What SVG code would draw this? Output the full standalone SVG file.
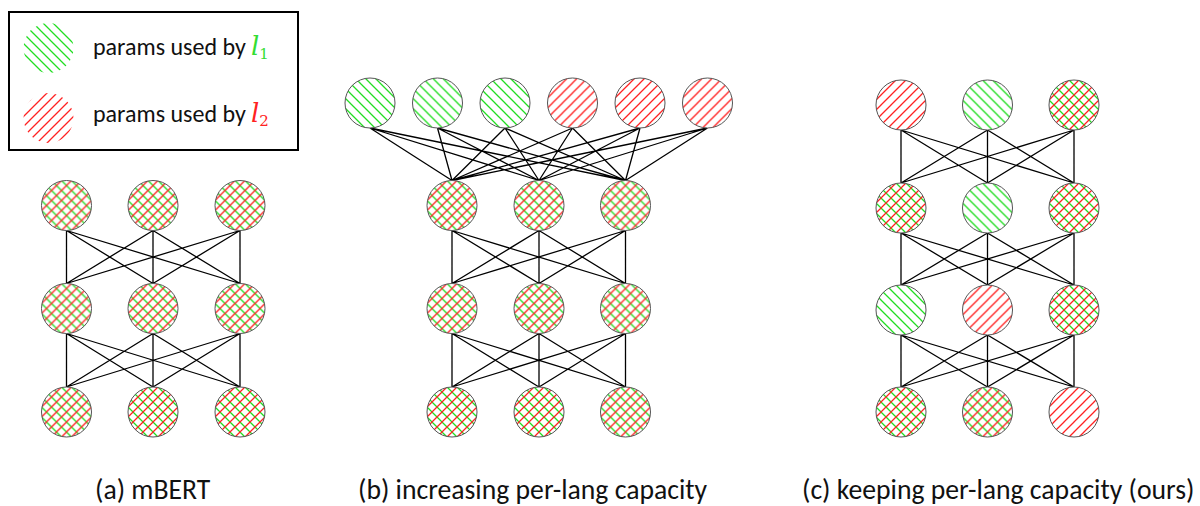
<svg xmlns="http://www.w3.org/2000/svg" width="1200" height="506" viewBox="0 0 1200 506">
<style>
.n{stroke:#555;stroke-width:1}
.g{fill:url(#pg)}
.r{fill:url(#pr)}
.conn{fill:none;stroke:#000;stroke-width:1.3}
.t{font-family:Carlito,"Open Sans","Noto Sans",sans-serif;fill:#111}
.m{font-family:"DejaVu Serif","Liberation Serif",serif;font-style:italic}
.s{font-family:"DejaVu Serif","Liberation Serif",serif}
</style>
<defs>
<pattern id="pg" patternUnits="userSpaceOnUse" width="10" height="10">
<path d="M-1,-1L11,11M-6,4L6,16M4,-6L16,6" stroke="#22dd22" stroke-width="1.3"/>
</pattern>
<pattern id="pr" patternUnits="userSpaceOnUse" width="10" height="10">
<path d="M-1,11L11,-1M-6,6L6,-6M4,16L16,4" stroke="#ff2222" stroke-width="1.3"/>
</pattern>
<g id="nx"><circle r="25" fill="#fff"/><circle r="25" class="g"/><circle r="25" class="r"/><circle r="25" fill="none" class="n"/></g>
<g id="ng"><circle r="25" fill="#fff"/><circle r="25" class="g"/><circle r="25" fill="none" class="n"/></g>
<g id="nr"><circle r="25" fill="#fff"/><circle r="25" class="r"/><circle r="25" fill="none" class="n"/></g>
</defs>
<rect width="1200" height="506" fill="#fff"/>

<g id="legend">
<rect x="9" y="12" width="289" height="138" fill="#fff" stroke="#000" stroke-width="2"/>
<circle cx="48.5" cy="48" r="25" class="g"/>
<circle cx="48.5" cy="118" r="25" class="r"/>
<text class="t" x="93" y="55" font-size="24">params used by</text>
<text x="251" y="55" font-size="26" fill="#33dd33"><tspan class="m">l</tspan><tspan class="s" font-size="15" dy="4">1</tspan></text>
<text class="t" x="93" y="122" font-size="24">params used by</text>
<text x="251" y="122" font-size="26" fill="#ff2222"><tspan class="m">l</tspan><tspan class="s" font-size="15" dy="4">2</tspan></text>
</g>

<g id="connectors" class="conn">
<path d="M66.5 230.5L66.5 283.5M66.5 230.5L153 283.5M66.5 230.5L240 283.5M153 230.5L66.5 283.5M153 230.5L153 283.5M153 230.5L240 283.5M240 230.5L66.5 283.5M240 230.5L153 283.5M240 230.5L240 283.5"/>
<path d="M66.5 333.5L66.5 387M66.5 333.5L153 387M66.5 333.5L240 387M153 333.5L66.5 387M153 333.5L153 387M153 333.5L240 387M240 333.5L66.5 387M240 333.5L153 387M240 333.5L240 387"/>
<path d="M370 128L452 180.5M370 128L539 180.5M370 128L625.5 180.5M437.5 128L452 180.5M437.5 128L539 180.5M437.5 128L625.5 180.5M505 128L452 180.5M505 128L539 180.5M505 128L625.5 180.5M572.5 128L452 180.5M572.5 128L539 180.5M572.5 128L625.5 180.5M640 128L452 180.5M640 128L539 180.5M640 128L625.5 180.5M707.5 128L452 180.5M707.5 128L539 180.5M707.5 128L625.5 180.5"/>
<path d="M452 230.5L452 283.5M452 230.5L539 283.5M452 230.5L625.5 283.5M539 230.5L452 283.5M539 230.5L539 283.5M539 230.5L625.5 283.5M625.5 230.5L452 283.5M625.5 230.5L539 283.5M625.5 230.5L625.5 283.5"/>
<path d="M452 333.5L452 387M452 333.5L539 387M452 333.5L625.5 387M539 333.5L452 387M539 333.5L539 387M539 333.5L625.5 387M625.5 333.5L452 387M625.5 333.5L539 387M625.5 333.5L625.5 387"/>
<path d="M901 130L901 183M901 130L987.5 183M901 130L1074 183M987.5 130L901 183M987.5 130L987.5 183M987.5 130L1074 183M1074 130L901 183M1074 130L987.5 183M1074 130L1074 183"/>
<path d="M901 233L901 285M901 233L987.5 285M901 233L1074 285M987.5 233L901 285M987.5 233L987.5 285M987.5 233L1074 285M1074 233L901 285M1074 233L987.5 285M1074 233L1074 285"/>
<path d="M901 335L901 387M901 335L987.5 387M901 335L1074 387M987.5 335L901 387M987.5 335L987.5 387M987.5 335L1074 387M1074 335L901 387M1074 335L987.5 387M1074 335L1074 387"/>
</g>

<g id="a-nodes">
<use id="a11" href="#nx" x="66.5" y="205.5"/><use id="a12" href="#nx" x="153" y="205.5"/><use id="a13" href="#nx" x="240" y="205.5"/>
<use id="a21" href="#nx" x="66.5" y="308.5"/><use id="a22" href="#nx" x="153" y="308.5"/><use id="a23" href="#nx" x="240" y="308.5"/>
<use id="a31" href="#nx" x="66.5" y="412"/><use id="a32" href="#nx" x="153" y="412"/><use id="a33" href="#nx" x="240" y="412"/>
</g>
<g id="b-nodes">
<use id="b01" href="#ng" x="370" y="103"/><use id="b02" href="#ng" x="437.5" y="103"/><use id="b03" href="#ng" x="505" y="103"/>
<use id="b04" href="#nr" x="572.5" y="103"/><use id="b05" href="#nr" x="640" y="103"/><use id="b06" href="#nr" x="707.5" y="103"/>
<use id="b11" href="#nx" x="452" y="205.5"/><use id="b12" href="#nx" x="539" y="205.5"/><use id="b13" href="#nx" x="625.5" y="205.5"/>
<use id="b21" href="#nx" x="452" y="308.5"/><use id="b22" href="#nx" x="539" y="308.5"/><use id="b23" href="#nx" x="625.5" y="308.5"/>
<use id="b31" href="#nx" x="452" y="412"/><use id="b32" href="#nx" x="539" y="412"/><use id="b33" href="#nx" x="625.5" y="412"/>
</g>
<g id="c-nodes">
<use id="c11" href="#nr" x="901" y="105"/><use id="c12" href="#ng" x="987.5" y="105"/><use id="c13" href="#nx" x="1074" y="105"/>
<use id="c21" href="#nx" x="901" y="208"/><use id="c22" href="#ng" x="987.5" y="208"/><use id="c23" href="#nx" x="1074" y="208"/>
<use id="c31" href="#ng" x="901" y="310"/><use id="c32" href="#nr" x="987.5" y="310"/><use id="c33" href="#nx" x="1074" y="310"/>
<use id="c41" href="#nx" x="901" y="412"/><use id="c42" href="#nx" x="987.5" y="412"/><use id="c43" href="#nr" x="1074" y="412"/>
</g>

<g id="captions">
<text class="t" x="95" y="499" font-size="27.7">(a) mBERT</text>
<text class="t" x="358" y="499" font-size="27.7">(b) increasing per-lang capacity</text>
<text class="t" x="802" y="499" font-size="27.7">(c) keeping per-lang capacity (ours)</text>
</g>
</svg>
